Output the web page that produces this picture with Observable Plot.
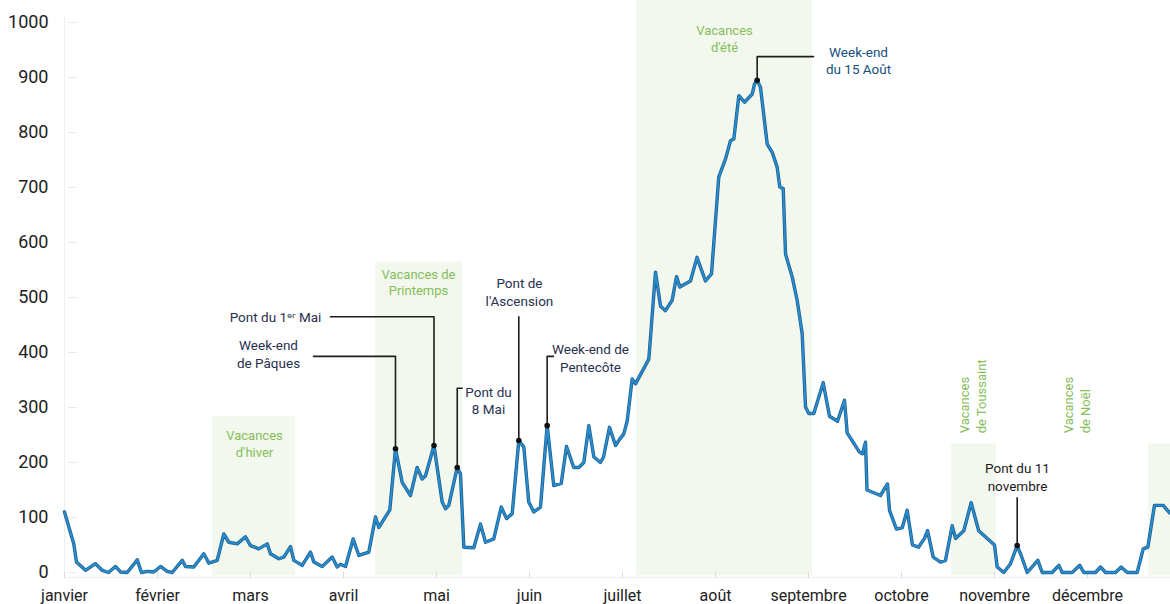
<!DOCTYPE html>
<html>
<head>
<meta charset="utf-8">
<script src="https://cdn.jsdelivr.net/npm/d3@7"></script>
<script src="https://cdn.jsdelivr.net/npm/@observablehq/plot@0.6"></script>
<style>
  html, body { margin: 0; padding: 0; background: #fff; overflow: hidden; }
  #chart { width: 1170px; height: 604px; }
</style>
</head>
<body>
<div id="chart"></div>
<script>
// Month labels (x position = month index, equal spacing)
const monthNames = ["janvier","février","mars","avril","mai","juin","juillet","août","septembre","octobre","novembre","décembre"];
const yTicks = [0,100,200,300,400,500,600,700,800,900,1000];

// Daily-ish series: position in months (0 = 1 janvier) and value
const positions = [0,0.100,0.129,0.226,0.333,0.405,0.473,0.548,0.602,0.674,0.782,0.828,0.889,0.960,1.032,1.104,1.158,1.266,1.301,1.390,1.498,1.552,1.642,1.713,1.767,1.857,1.946,2.000,2.089,2.180,2.215,2.304,2.358,2.430,2.466,2.556,2.645,2.681,2.771,2.878,2.932,2.968,3.022,3.104,3.165,3.272,3.344,3.380,3.498,3.559,3.631,3.720,3.792,3.846,3.882,3.973,4.061,4.097,4.132,4.223,4.258,4.294,4.401,4.473,4.527,4.616,4.696,4.753,4.814,4.885,4.939,4.992,5.046,5.118,5.190,5.261,5.341,5.398,5.476,5.530,5.584,5.638,5.692,5.763,5.796,5.860,5.925,5.960,6.014,6.051,6.104,6.140,6.283,6.355,6.409,6.462,6.534,6.581,6.616,6.731,6.801,6.892,6.957,7.035,7.108,7.161,7.197,7.251,7.312,7.395,7.419,7.448,7.484,7.556,7.610,7.663,7.691,7.728,7.753,7.825,7.878,7.932,7.968,8.003,8.057,8.158,8.226,8.312,8.387,8.416,8.548,8.581,8.613,8.629,8.774,8.849,8.871,8.946,9.007,9.061,9.118,9.183,9.247,9.280,9.341,9.419,9.473,9.545,9.581,9.670,9.749,9.830,10.000,10.029,10.100,10.172,10.244,10.280,10.352,10.466,10.513,10.620,10.692,10.728,10.835,10.917,10.960,11.086,11.140,11.194,11.301,11.362,11.427,11.534,11.599,11.649,11.720,11.814,11.874,11.957];
const values = [110,52,19,4,16,4,0,11,1,0,23,0,2,1,11,2,0,22,11,10,34,17,22,70,55,52,65,49,43,52,34,25,28,47,22,13,37,19,11,28,10,15,11,61,31,37,101,82,114,225,164,140,191,170,176,231,128,116,122,191,179,46,45,88,55,61,119,98,107,240,228,128,110,119,267,158,162,229,191,191,200,267,210,200,210,264,231,240,252,276,352,343,388,546,484,476,495,538,519,530,573,530,543,719,752,785,788,867,855,870,888,895,882,779,764,737,701,698,579,537,495,434,301,289,289,345,284,275,313,254,219,216,237,150,140,161,113,79,81,113,50,46,62,76,28,19,22,85,62,76,127,76,50,10,0,16,49,34,0,22,0,0,13,0,0,13,0,0,10,0,0,10,0,0,43,46,122,122,110,100];

// School holidays (start, end in months, top value)
const holidayNames = ["hiver","printemps","été","toussaint","noël"];
const holidayStart = [1.591,3.344,6.151,9.538,11.656];
const holidayEnd   = [2.484,4.280,8.043,10.022,12.0];
const holidayTop   = [283,564,1040,234,234];

// Holiday labels (horizontal)
const holidayLabels = ["Vacances\nd'hiver","Vacances de\nPrintemps","Vacances\nd'été"];
const holidayLabelX = [2.043,3.806,7.097];
const holidayLabelY = [235,529,972];
// Holiday labels (vertical)
const holidayVLabels = ["Vacances\nde Toussaint","Vacances\nde Noël"];
const holidayVLabelX = [9.758,10.882];
const holidayVLabelY = [253,253];

// Event annotations
const eventLabels = ["Week-end\nde Pâques","Pont du 1ᵉʳ Mai","Pont du\n8 Mai","Pont de\nl'Ascension","Week-end de\nPentecôte","Week-end\ndu 15 Août","Pont du 11\nnovembre"];
const eventX = [3.559,3.973,4.223,4.885,5.190,7.448,10.244];
const eventY = [225,231,191,240,267,895,49];
const eventLabelX = [2.194,2.269,4.559,4.892,5.656,8.538,10.247];
const eventLabelY = [398,465,314,511,391,932,175];
const eventWeight = [600,400,600,400,600,700,600];
const eventColor = ["#2a3050","#2a3050","#2a3050","#2a3050","#2a3050","#17507f","#1a1a1a"];
// leader paths: [ [m, v], ... ]
const leaderPaths = [
  [[2.677,393],[3.559,393],[3.559,225]],
  [[2.860,465],[3.973,465],[3.973,231]],
  [[4.276,335],[4.223,335],[4.223,191]],
  [[4.885,465],[4.885,240]],
  [[5.258,393],[5.190,393],[5.190,267]],
  [[8.054,938],[7.448,938],[7.448,895]],
  [[10.244,136],[10.244,49]]
];

const series = positions.map((m, i) => ({m, v: values[i]}));
const holidays = holidayNames.map((n, i) => ({n, x1: holidayStart[i], x2: holidayEnd[i], top: holidayTop[i]}));
const hLabels = holidayLabels.map((t, i) => ({t, x: holidayLabelX[i], y: holidayLabelY[i]}));
const vLabels = holidayVLabels.map((t, i) => ({t, x: holidayVLabelX[i], y: holidayVLabelY[i]}));
const events = eventLabels.map((t, i) => ({t, x: eventX[i], y: eventY[i], lx: eventLabelX[i], ly: eventLabelY[i], w: eventWeight[i], c: eventColor[i]}));
const leaders = leaderPaths.flatMap((p, k) => p.map(([m, v]) => ({k, m, v})));

const chart = Plot.plot({
  width: 1170,
  height: 604,
  marginLeft: 64,
  marginRight: 0,
  marginTop: 0,
  marginBottom: 32,
  x: {domain: [0, 12], range: [64, 1180]},
  y: {domain: [0, 1000], range: [572, 22]},
  style: {fontFamily: "Roboto, 'Noto Sans', sans-serif", background: "#fff", overflow: "hidden"},
  marks: [
    Plot.rectY(holidays, {x1: "x1", x2: "x2", y1: -6, y2: "top", fill: "#f3f8ef"}),
    Plot.ruleX([0], {y1: -6, y2: 1010, stroke: "#eeeeee"}),
    Plot.ruleY([-9], {x1: 0, x2: 12, stroke: "#eeeeee"}),
    Plot.ruleY(yTicks, {x1: 0.04, x2: 0.14, stroke: "#e8e8e8"}),
    Plot.ruleX(d3.range(12), {y1: 1, y2: -11, stroke: "#dddddd"}),
    Plot.axisY(yTicks, {tickSize: 0, tickPadding: 16, fontSize: 18, fill: "#222", label: null, tickFormat: d => String(d)}),
    Plot.axisX(d3.range(12), {tickSize: 0, tickPadding: 17, fontSize: 16, fill: "#222", label: null, tickFormat: i => monthNames[i]}),
    Plot.text(hLabels, {x: "x", y: "y", text: "t", fontSize: 13, fill: "#86bd5a", lineHeight: 1.3}),
    Plot.text(vLabels, {x: "x", y: "y", text: "t", rotate: -90, textAnchor: "start", fontSize: 13, fill: "#86bd5a", lineHeight: 1.3}),
    Plot.line(leaders, {x: "m", y: "v", z: "k", stroke: "#1e1e1e", strokeWidth: 1.6}),
    Plot.line(series, {x: "m", y: "v", stroke: "#1a5f91", strokeWidth: 3.4, strokeLinejoin: "round"}),
    Plot.line(series, {x: "m", y: "v", stroke: "#2a8ccc", strokeWidth: 1.9, strokeLinejoin: "round"}),
    Plot.dot(events, {x: "x", y: "y", r: 2.8, fill: "#111"}),
    Plot.text(events, {x: "lx", y: "ly", text: "t", fontSize: 13.5, fontWeight: "w", fill: "c", lineHeight: 1.3})
  ]
});
document.getElementById("chart").append(chart);
</script>
</body>
</html>
